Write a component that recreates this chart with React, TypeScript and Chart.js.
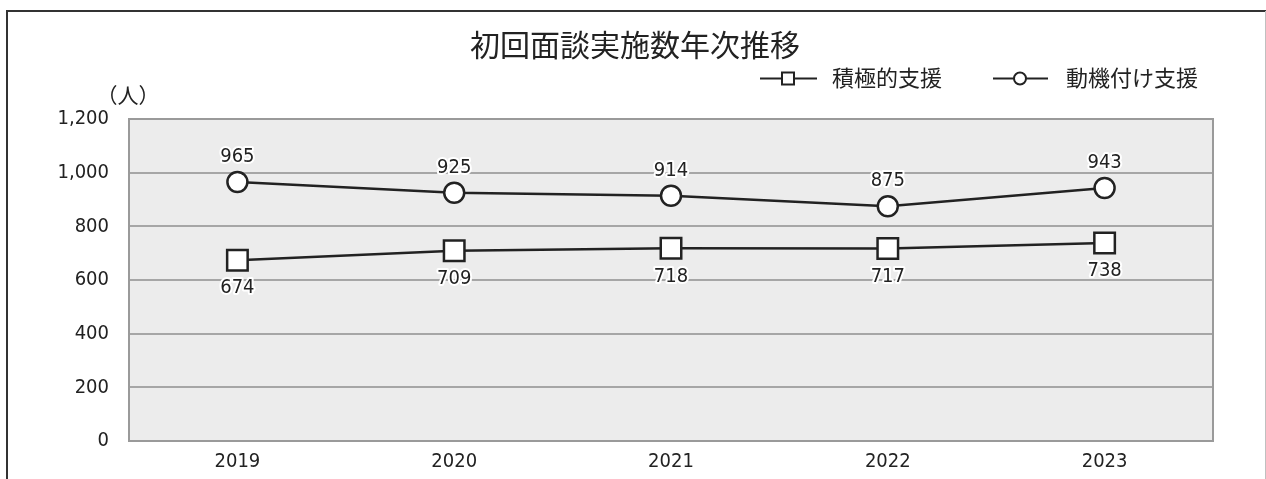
import React, { useEffect, useRef } from "react";
import { Chart, registerables } from "chart.js";

Chart.register(...registerables);

const title = "初回面談実施数年次推移";
const unitLabel = "（人）";
const categories = ["2019", "2020", "2021", "2022", "2023"];
const seriesNames = ["積極的支援", "動機付け支援"];
const activeSupport = [674, 709, 718, 717, 738];
const motivationalSupport = [965, 925, 914, 875, 943];
const yTicks = [0, 200, 400, 600, 800, 1000, 1200];

const TEXT = "#222222";
const LINE = "#222222";
const JP = '"Noto Sans CJK JP", "Noto Sans", sans-serif';
const NUM = '"DejaVu Sans Condensed", "Liberation Sans", Arial, sans-serif';
const NUM_SIZE = 20;

const framePlugin = {
  id: "frame",
  beforeDraw(chart: any) {
    const { ctx, chartArea } = chart;
    ctx.save();
    ctx.fillStyle = "#ffffff";
    ctx.fillRect(0, 0, chart.width, chart.height);
    // outer frame
    ctx.strokeStyle = "#333333";
    ctx.lineWidth = 2;
    ctx.beginPath();
    ctx.moveTo(7, chart.height);
    ctx.lineTo(7, 11);
    ctx.lineTo(chart.width, 11);
    ctx.stroke();
    ctx.strokeStyle = "#c0c0c0";
    ctx.lineWidth = 1;
    ctx.beginPath();
    ctx.moveTo(1265.5, 11);
    ctx.lineTo(1265.5, chart.height);
    ctx.stroke();
    // plot background
    ctx.fillStyle = "#ececec";
    ctx.fillRect(chartArea.left, chartArea.top, chartArea.right - chartArea.left, chartArea.bottom - chartArea.top);
    // title
    ctx.fillStyle = TEXT;
    ctx.font = `30px ${JP}`;
    ctx.textAlign = "center";
    ctx.textBaseline = "middle";
    ctx.fillText(title, 635, 45);
    // unit
    ctx.font = `21px ${JP}`;
    ctx.fillText(unitLabel, 128, 95);
    // legend
    const ly = 78.5;
    ctx.strokeStyle = LINE;
    ctx.lineWidth = 2;
    ctx.beginPath();
    ctx.moveTo(760, ly);
    ctx.lineTo(817, ly);
    ctx.moveTo(993, ly);
    ctx.lineTo(1048, ly);
    ctx.stroke();
    ctx.fillStyle = "#ffffff";
    ctx.fillRect(782, ly - 6, 12, 12);
    ctx.strokeRect(782, ly - 6, 12, 12);
    ctx.beginPath();
    ctx.arc(1020, ly, 6, 0, Math.PI * 2);
    ctx.fill();
    ctx.stroke();
    ctx.fillStyle = TEXT;
    ctx.font = `22px ${JP}`;
    ctx.textAlign = "left";
    ctx.fillText(seriesNames[0], 832, 78);
    ctx.fillText(seriesNames[1], 1066, 78);
    ctx.restore();
  },
  beforeDatasetsDraw(chart: any) {
    const { ctx, chartArea } = chart;
    ctx.save();
    ctx.strokeStyle = "#9a9a9a";
    ctx.lineWidth = 2;
    ctx.strokeRect(chartArea.left, chartArea.top, chartArea.right - chartArea.left, chartArea.bottom - chartArea.top);
    ctx.restore();
  },
};

const labelPlugin = {
  id: "valueLabels",
  afterDatasetsDraw(chart: any) {
    const { ctx } = chart;
    ctx.save();
    ctx.font = `${NUM_SIZE}px ${NUM}`;
    ctx.textAlign = "center";
    ctx.textBaseline = "middle";
    ctx.lineJoin = "round";
    chart.data.datasets.forEach((ds: any, di: number) => {
      const meta = chart.getDatasetMeta(di);
      meta.data.forEach((pt: any, i: number) => {
        const v = ds.data[i];
        const text = String(v);
        const y = di === 0 ? pt.y + 28 : pt.y - 25;
        ctx.strokeStyle = "#ffffff";
        ctx.lineWidth = 4;
        ctx.strokeText(text, pt.x, y);
        ctx.fillStyle = TEXT;
        ctx.fillText(text, pt.x, y);
      });
    });
    ctx.restore();
  },
};

export default function App() {
  const ref = useRef<HTMLCanvasElement | null>(null);
  useEffect(() => {
    if (!ref.current) return;
    const chart = new Chart(ref.current, {
      type: "line",
      data: {
        labels: categories,
        datasets: [
          {
            label: seriesNames[0],
            data: activeSupport,
            borderColor: LINE,
            borderWidth: 2.5,
            pointStyle: "rect",
            pointRadius: 14.5,
            pointBackgroundColor: "#ffffff",
            pointBorderColor: LINE,
            pointBorderWidth: 2.5,
            tension: 0,
          },
          {
            label: seriesNames[1],
            data: motivationalSupport,
            borderColor: LINE,
            borderWidth: 2.5,
            pointStyle: "circle",
            pointRadius: 10,
            pointBackgroundColor: "#ffffff",
            pointBorderColor: LINE,
            pointBorderWidth: 2.5,
            tension: 0,
          },
        ],
      },
      options: {
        responsive: false,
        animation: false,
        devicePixelRatio: 1,
        layout: { padding: { top: 119, right: 53, left: 0, bottom: 0 } },
        plugins: {
          legend: { display: false },
          title: { display: false },
          tooltip: { enabled: false },
        },
        scales: {
          x: {
            type: "category",
            offset: true,
            grid: { display: false, drawTicks: false },
            border: { display: false },
            ticks: { color: TEXT, font: { family: NUM, size: NUM_SIZE }, padding: 9, maxRotation: 0 },
            afterFit(scale: any) {
              scale.height = 38;
            },
          },
          y: {
            min: 0,
            max: 1200,
            afterBuildTicks(scale: any) {
              scale.ticks = yTicks.map((v) => ({ value: v }));
            },
            grid: { color: "#a6a6a6", lineWidth: 2, drawTicks: false },
            border: { display: false },
            ticks: {
              color: TEXT,
              font: { family: NUM, size: NUM_SIZE },
              padding: 20,
              callback: (v: any) => Number(v).toLocaleString("en-US"),
            },
            afterFit(scale: any) {
              scale.width = 129;
            },
          },
        },
      },
      plugins: [framePlugin, labelPlugin],
    });
    return () => chart.destroy();
  }, []);
  return (
    <div style={{ position: "absolute", left: 0, top: 0, width: 1266, height: 479, background: "#fff" }}>
      <canvas ref={ref} width={1266} height={479} style={{ display: "block" }} />
    </div>
  );
}
